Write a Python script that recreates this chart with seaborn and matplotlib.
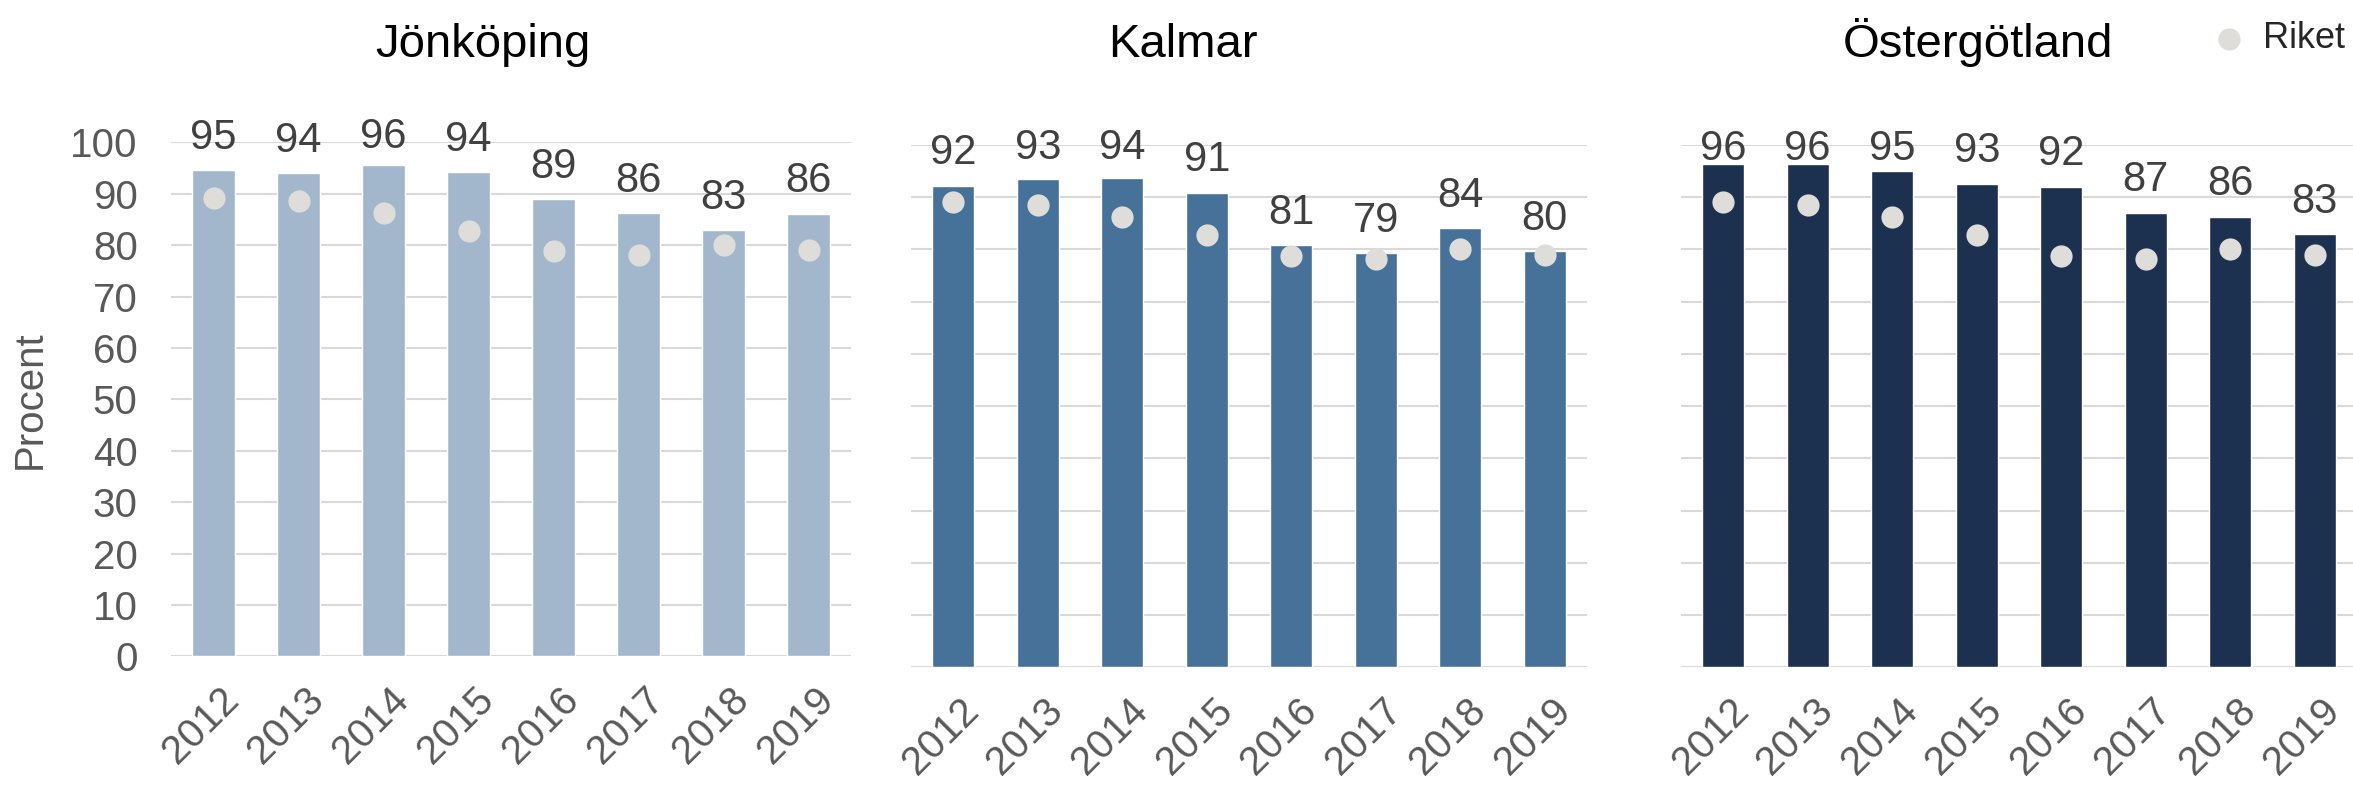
import pandas as pd
import matplotlib.pyplot as plt
import seaborn as sns
from matplotlib.transforms import ScaledTranslation

# Values
years = ["2012", "2013", "2014", "2015", "2016", "2017", "2018", "2019"]
jonkoping = [94.6, 94.0, 95.6, 94.2, 88.9, 86.2, 82.9, 86.1]
kalmar = [92.2, 93.4, 93.6, 90.9, 80.8, 79.3, 84.1, 79.7]
ostergotland = [96.3, 96.3, 95.0, 92.6, 92.0, 87.0, 86.3, 82.9]
riket = [89.1, 88.5, 86.3, 82.7, 78.8, 78.1, 80.0, 79.0]

regions = ["Jönköping", "Kalmar", "Östergötland"]
region_values = [jonkoping, kalmar, ostergotland]
bar_colors = ["#A2B7CB", "#467299", "#1C3050"]
dot_color = "#DEDDD9"

sns.set_style("white")
plt.rcParams["font.family"] = ["Liberation Sans", "DejaVu Sans"]

FIG_W, FIG_H, DPI = 2353, 786, 100
fig = plt.figure(figsize=(FIG_W / DPI, FIG_H / DPI), dpi=DPI)

positions = [
    [0.0727, 0.1648, 0.2890, 0.6542],
    [0.3872, 0.1510, 0.2873, 0.6645],
    [0.7144, 0.1510, 0.2873, 0.6645],
]
title_x = [0.2051, 0.5026, 0.8408]
# labels are kept inside the plot area, like in the original (Excel) chart
label_cap = [98.7, 97.3, 97.0]
label_gap_px = 21
label_descent_px = 8.5

dot_handle = None
for i, (region, vals) in enumerate(zip(regions, region_values)):
    ax = fig.add_axes(positions[i])
    df = pd.DataFrame({"År": years, "Andel": vals, "Riket": riket})

    sns.barplot(data=df, x="År", y="Andel", color=bar_colors[i],
                saturation=1, width=0.5, ax=ax)
    sns.stripplot(data=df, x="År", y="Riket", jitter=False, size=16,
                  color=dot_color, linewidth=0, ax=ax, zorder=3)
    dot_handle = ax.collections[-1]

    # value labels above the bars
    ppu = positions[i][3] * FIG_H / 100
    for bar in ax.containers[0]:
        h = bar.get_height()
        gap = min(label_gap_px, (label_cap[i] - h) * ppu)
        pad = (gap - label_descent_px) * 72 / DPI
        ax.annotate(f"{h:.0f}", xy=(bar.get_x() + bar.get_width() / 2, h),
                    xytext=(0, pad), textcoords="offset points",
                    ha="center", va="bottom", fontsize=30, color="#404040",
                    annotation_clip=False)

    ax.set_ylim(0, 100)
    ax.set_xlim(-0.5, 7.5)
    ax.set_yticks(range(0, 101, 10))
    ax.grid(axis="y", color="#D9D9D9", linewidth=1.5)
    ax.grid(axis="x", visible=False)
    ax.set_axisbelow(True)
    sns.despine(ax=ax, left=True, bottom=True)

    ax.set_xlabel("")
    ax.tick_params(axis="both", length=0, labelsize=29, labelcolor="#595959")
    ax.tick_params(axis="x", pad=17)
    ax.tick_params(axis="y", pad=24)
    for lab in ax.get_xticklabels():
        lab.set_rotation(45)
        lab.set_ha("right")
        lab.set_va("top")
        lab.set_rotation_mode("anchor")
        lab.set_transform(lab.get_transform()
                          + ScaledTranslation(6 / DPI, 0, fig.dpi_scale_trans))

    if i == 0:
        ax.set_ylabel("Procent", fontsize=29, color="#595959")
        ax.yaxis.set_label_coords(-0.18, 0.5)
    else:
        ax.set_ylabel("")
        ax.tick_params(axis="y", labelleft=False)

    fig.text(title_x[i], 0.9275, region, ha="center", va="baseline",
             fontsize=34, color="black")

fig.legend(handles=[dot_handle], labels=["Riket"], loc="center left",
           bbox_to_anchor=(0.9397, 1 - 39 / 786), frameon=False, fontsize=26,
           handlelength=1.0, handletextpad=0.44, borderpad=0, borderaxespad=0)

fig.savefig("out.png", dpi=DPI)
